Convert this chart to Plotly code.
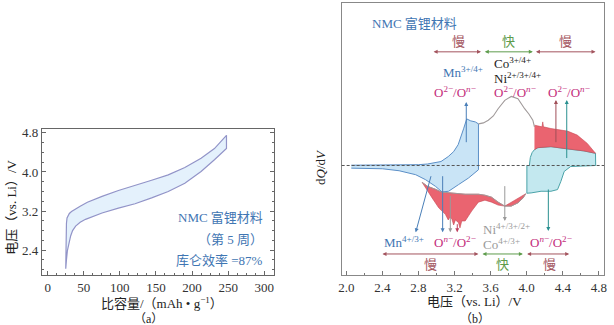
import plotly.graph_objects as go

# ---------------- panel (a): 5th-cycle charge/discharge profile ----------------
cap_charge = [25, 25.2, 25.5, 26.0, 26.8, 28, 30, 33, 38, 45, 55, 65, 75.3, 98, 121, 144, 167, 190, 212.5, 231, 247.7]
v_charge = [2.02, 2.30, 2.70, 2.95, 3.06, 3.11, 3.15, 3.19, 3.24, 3.30, 3.38, 3.44, 3.50, 3.62, 3.72, 3.83, 3.94, 4.09, 4.28, 4.48, 4.75]
cap_discharge = [247.7, 231, 212.5, 190, 167, 144, 121, 98, 75.3, 52.4, 45, 38.7, 34.5, 31.8, 29.5, 27.3, 26, 25]
v_discharge = [4.48, 4.25, 4.01, 3.77, 3.60, 3.47, 3.35, 3.26, 3.16, 3.03, 2.97, 2.89, 2.80, 2.69, 2.55, 2.39, 2.20, 2.02]

# ---------------- panel (b): dQ/dV (arbitrary units) ----------------
# charge, low-voltage window
v_chg_lo = [2.055, 2.40, 2.70, 2.80, 2.90, 3.00, 3.05, 3.13, 3.19, 3.24, 3.27, 3.30, 3.335, 3.38, 3.43, 3.465]
q_chg_lo = [0.3, 0.3, 0.5, 0.8, 1.5, 3, 4, 9, 14, 21, 28, 37, 47, 45, 44, 42]
# discharge, low-voltage window
v_dis_lo = [2.055, 2.40, 2.585, 2.769, 2.878, 2.988, 3.061, 3.134, 3.244, 3.354, 3.465]
q_dis_lo = [-2.7, -3.3, -5.3, -9.3, -14.3, -21, -26.7, -26, -19.3, -12.7, -4.3]
# charge, middle window
v_chg_mid = [3.465, 3.52, 3.574, 3.63, 3.683, 3.757, 3.829, 3.903, 3.977, 4.024, 4.068, 4.086]
q_chg_mid = [42, 43, 45.7, 50, 57.3, 65.7, 69.7, 67.3, 57.3, 52, 45.7, 39]
# charge, high-voltage window (lower and upper boundaries)
v_chg_hi = [4.03, 4.04, 4.06, 4.086, 4.124, 4.269, 4.452, 4.635, 4.763, 4.765]
q_chg_hi = [0, 8, 13, 16, 18, 19, 16.7, 14.7, 12.3, 0]
v_chg_hi_first = [4.086, 4.12, 4.17, 4.178, 4.186, 4.269, 4.452, 4.56, 4.672, 4.763]
q_chg_hi_first = [40.7, 40, 39, 44, 39, 37.3, 34.7, 30.7, 22.3, 12.3]
# discharge, high-voltage window
v_dis_hi = [4.002, 4.002, 4.049, 4.159, 4.269, 4.342, 4.379, 4.416, 4.488, 4.763]
q_dis_hi = [0, -28, -27.7, -26, -26, -24.3, -16, -6, -1, 0]
# discharge, middle curve and first-cycle envelope
v_dis_mid = [2.84, 2.90, 2.988, 3.061, 3.134, 3.208, 3.318, 3.464, 3.537, 3.61, 3.683, 3.757, 3.829, 3.903, 3.958, 3.99]
q_dis_mid = [-17, -21, -24, -27, -27.5, -28, -29, -29, -30, -32, -37, -41, -41, -37.7, -33, -28.5]
v_dis_first = [2.84, 2.878, 2.951, 3.024, 3.098, 3.13, 3.15, 3.171, 3.19, 3.21, 3.244, 3.26, 3.28, 3.318, 3.39, 3.464, 3.537, 3.61, 3.683, 3.757]
q_dis_first = [-17, -23, -32.7, -42.7, -49.3, -55, -52, -54.3, -60, -55, -57.7, -63, -56, -56, -46, -37, -35, -37, -40, -41]

SERIF = "'Liberation Serif', 'Times New Roman', 'Noto Sans CJK SC', serif"
CJK = "'Noto Sans CJK SC', sans-serif"

BLUE_LINE = "#5b8fc7"
BLUE_FILL = "#c9e4f6"
TEAL_LINE = "#4aa3a8"
TEAL_FILL = "#c3e8ef"
RED_FILL = "#ea6470"
RED_LINE = "#c84a55"
GRAY_LINE = "#a09a9a"
MAGENTA = "#c42d7c"
SLOW = "#a3545e"
FAST = "#5e9c4c"
TXT_BLUE = "#3f76b3"

fig = go.Figure()

# panel (a) hysteresis loop
fig.add_trace(go.Scatter(
    x=cap_charge + cap_discharge, y=v_charge + v_discharge,
    mode="lines", fill="toself", fillcolor="#e4f1fc",
    line=dict(color="#9294c8", width=1.2), xaxis="x", yaxis="y", hoverinfo="skip"))

# panel (b) fills
fig.add_trace(go.Scatter(
    x=v_chg_lo + v_dis_lo[::-1], y=q_chg_lo + q_dis_lo[::-1],
    mode="lines", fill="toself", fillcolor=BLUE_FILL,
    line=dict(color=BLUE_LINE, width=1), xaxis="x2", yaxis="y2", hoverinfo="skip"))
fig.add_trace(go.Scatter(
    x=v_dis_mid + v_dis_first[::-1], y=q_dis_mid + q_dis_first[::-1],
    mode="lines", fill="toself", fillcolor=RED_FILL,
    line=dict(color=RED_LINE, width=0.6), xaxis="x2", yaxis="y2", hoverinfo="skip"))
fig.add_trace(go.Scatter(
    x=v_dis_mid, y=q_dis_mid, mode="lines",
    line=dict(color=GRAY_LINE, width=1), xaxis="x2", yaxis="y2", hoverinfo="skip"))
fig.add_trace(go.Scatter(
    x=v_dis_hi + v_chg_hi[::-1], y=q_dis_hi + q_chg_hi[::-1],
    mode="lines", fill="toself", fillcolor=TEAL_FILL,
    line=dict(color=TEAL_LINE, width=1), xaxis="x2", yaxis="y2", hoverinfo="skip"))
fig.add_trace(go.Scatter(
    x=v_chg_hi[3:9] + v_chg_hi_first[::-1], y=q_chg_hi[3:9] + q_chg_hi_first[::-1],
    mode="lines", fill="toself", fillcolor=RED_FILL,
    line=dict(color=RED_LINE, width=0.6), xaxis="x2", yaxis="y2", hoverinfo="skip"))
fig.add_trace(go.Scatter(
    x=v_chg_mid, y=q_chg_mid, mode="lines",
    line=dict(color=GRAY_LINE, width=1.1), xaxis="x2", yaxis="y2", hoverinfo="skip"))

shapes = [dict(type="line", xref="x2 domain", yref="y2", x0=0, x1=1, y0=0, y1=0,
               line=dict(color="#555555", width=1, dash="3px,2px"))]

ann = []


def text(x, y, s, color, size=13, xanchor="center", font=SERIF, xref="x2", yref="y2"):
    ann.append(dict(x=x, y=y, xref=xref, yref=yref, text=s, showarrow=False,
                    xanchor=xanchor, yanchor="middle",
                    font=dict(family=font, size=size, color=color)))


def arrow(x0, y0, x1, y1, color, both=False):
    ann.append(dict(x=x1, y=y1, ax=x0, ay=y0, xref="x2", yref="y2", axref="x2", ayref="y2",
                    text="", showarrow=True, arrowhead=2, startarrowhead=2, arrowsize=0.8,
                    arrowwidth=1, arrowcolor=color,
                    arrowside="end+start" if both else "end"))


# panel (a) annotations
text(0.4305, 0.333, "NMC 富锂材料", TXT_BLUE, 13, "right", SERIF, "paper", "paper")
text(0.4305, 0.267, "（第 5 周）", TXT_BLUE, 13, "right", SERIF, "paper", "paper")
text(0.4305, 0.200, "库仑效率 =87%", TXT_BLUE, 13, "right", SERIF, "paper", "paper")

# panel (b) title
text(2.267, 143, "NMC 富锂材料", TXT_BLUE, 13, "left")

# rate regimes (top: charge, bottom: discharge)
arrow(2.951, 114.7, 3.493, 114.7, SLOW, True)
arrow(3.519, 114.7, 4.068, 114.7, FAST, True)
arrow(4.086, 114.7, 4.763, 114.7, SLOW, True)
text(3.248, 126, "慢", SLOW, 13, font=CJK)
text(3.80, 126, "快", FAST, 13, font=CJK)
text(4.43, 126, "慢", SLOW, 13, font=CJK)

arrow(2.384, -89.3, 3.464, -89.3, SLOW, True)
arrow(3.493, -89.3, 3.958, -89.3, FAST, True)
arrow(3.988, -89.3, 4.471, -89.3, SLOW, True)
text(2.933, -99.3, "慢", SLOW, 13, font=CJK)
text(3.727, -99.3, "快", FAST, 13, font=CJK)
text(4.251, -99.3, "慢", SLOW, 13, font=CJK)

# redox labels, charge side
text(3.299, 94.7, "Mn<sup>3+/4+</sup>", "#3f76b3", 13)
text(3.61, 103.5, "Co<sup>3+/4+</sup>", "#222222", 13, "left")
text(3.61, 88.5, "Ni<sup>2+/3+/4+</sup>", "#222222", 13, "left")
text(3.207, 74, "O<sup>2−</sup>/O<sup><i>n</i>−</sup>", MAGENTA, 13)
text(3.867, 74, "O<sup>2−</sup>/O<sup><i>n</i>−</sup>", MAGENTA, 13)
text(4.471, 74, "O<sup>2−</sup>/O<sup><i>n</i>−</sup>", MAGENTA, 13)
arrow(3.33, 22, 3.33, 64, "#4a7fb8")
arrow(4.324, 22, 4.324, 66, "#a04f58")
arrow(4.444, 6, 4.444, 66, "#2a9090")

# redox labels, discharge side
text(2.64, -77.7, "Mn<sup>4+/3+</sup>", "#3f76b3", 13)
text(3.208, -77.7, "O<sup><i>n</i>−</sup>/O<sup>2−</sup>", MAGENTA, 13)
text(3.771, -64.3, "Ni<sup>4+/3+/2+</sup>", "#9a9a9a", 13)
text(3.72, -79.3, "Co<sup>4+/3+</sup>", "#9a9a9a", 13)
text(4.27, -77.7, "O<sup><i>n</i>−</sup>/O<sup>2−</sup>", MAGENTA, 13)
arrow(2.943, -9.3, 2.769, -67.5, "#4a7fb8")
arrow(3.068, -9.3, 3.068, -67.5, "#4a7fb8")
arrow(3.153, -29.3, 3.153, -67.5, "#9a9a9a")
arrow(3.23, -57.7, 3.23, -67.5, "#c04060")
arrow(3.757, -19.3, 3.757, -56, "#9a9a9a")
arrow(4.24, -22.7, 4.24, -66, "#2a9090")

# axis titles and panel tags
text(0.0135, 0.365, "电压（vs. Li）/V", "#222222", 13, "center", SERIF, "paper", "paper")
ann[-1]["textangle"] = -90
text(0.261, 0.067, "比容量/（mAh • g<sup>−1</sup>）", "#222222", 13, "center", SERIF, "paper", "paper")
text(0.239, 0.018, "（a）", "#222222", 12, "center", SERIF, "paper", "paper")
text(0.521, 0.49, "d<i>Q</i>/d<i>V</i>", "#222222", 13, "center", SERIF, "paper", "paper")
ann[-1]["textangle"] = -90
text(0.776, 0.072, "电压（vs. Li）/V", "#222222", 13, "center", SERIF, "paper", "paper")
text(0.776, 0.018, "（b）", "#222222", 12, "center", SERIF, "paper", "paper")

tickfont = dict(family=SERIF, size=13, color="#333333")

fig.update_layout(
    width=614, height=325, margin=dict(l=0, r=0, t=0, b=0),
    paper_bgcolor="white", plot_bgcolor="white", showlegend=False,
    shapes=shapes, annotations=ann, font=dict(family=SERIF),
    xaxis=dict(domain=[0.064, 0.4451], range=[-8, 313], anchor="y",
               tickvals=[0, 50, 100, 150, 200, 250, 300], ticks="inside", ticklen=4,
               tickcolor="#666666", showgrid=False, zeroline=False,
               showline=True, linecolor="#666666", linewidth=1, mirror=True,
               minor=dict(dtick=12.5, tick0=0, ticks="inside", ticklen=2, tickcolor="#666666"),
               tickfont=tickfont),
    yaxis=dict(domain=[0.1538, 0.6102], range=[1.88, 4.89], anchor="x",
               tickvals=[2.4, 3.2, 4.0, 4.8], ticktext=["2.4", "3.2", "4.0", "4.8"],
               ticks="inside", ticklen=4, tickcolor="#666666", showgrid=False, zeroline=False,
               showline=True, linecolor="#666666", linewidth=1, mirror="ticks",
               minor=dict(dtick=0.2, tick0=2.0, ticks="inside", ticklen=2, tickcolor="#666666"),
               tickfont=tickfont),
    xaxis2=dict(domain=[0.557, 0.9886], range=[1.948, 4.858], anchor="y2",
                tickvals=[2.0, 2.4, 2.8, 3.2, 3.6, 4.0, 4.4, 4.8],
                ticktext=["2.0", "2.4", "2.8", "3.2", "3.6", "4.0", "4.4", "4.8"],
                ticks="inside", ticklen=4, tickcolor="#777777", showgrid=False, zeroline=False,
                showline=True, linecolor="#888888", linewidth=1, mirror=True,
                minor=dict(dtick=0.2, tick0=2.0, ticks="inside", ticklen=2, tickcolor="#777777"),
                tickfont=tickfont),
    yaxis2=dict(domain=[0.1538, 0.9985], range=[-111, 163.5], anchor="x2",
                showticklabels=False, ticks="", showgrid=False, zeroline=False,
                showline=True, linecolor="#888888", linewidth=1, mirror=True),
)

fig.write_html("out.html")
